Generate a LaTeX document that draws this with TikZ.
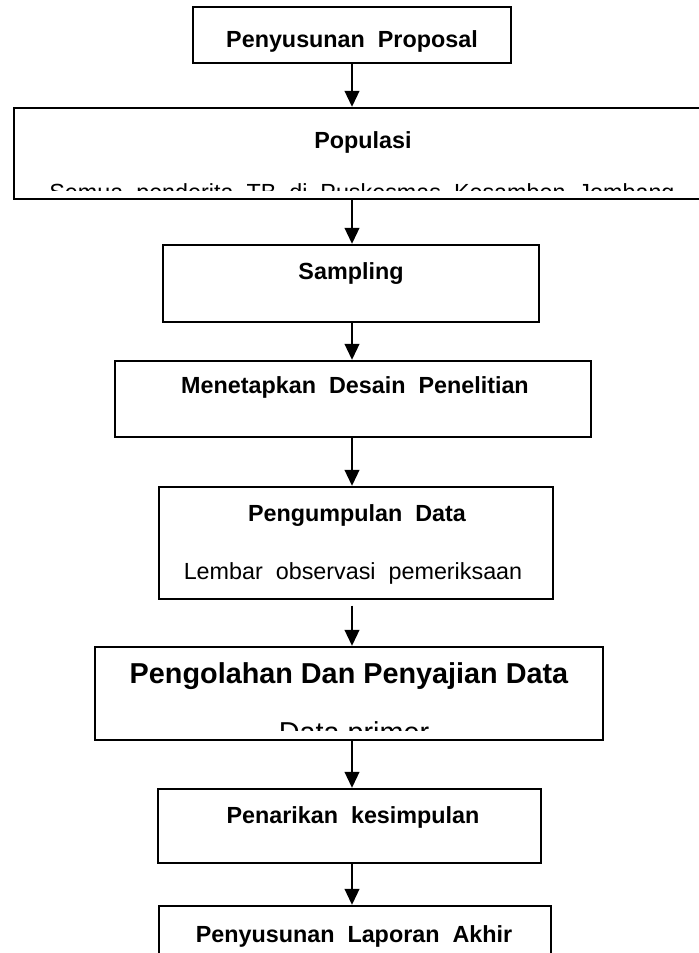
\documentclass[tikz,border=0pt]{standalone}
\usepackage{fontspec}
\setmainfont{Liberation Sans}
\newfontfamily\widefont[WordSpace=2]{Liberation Sans}
\usetikzlibrary{fit,arrows.meta}

\tikzset{every picture/.style={line width=0.75pt}}
\tikzset{
	stepbox/.style={draw, rectangle, line width=1.75pt, inner sep=0pt},
	flowarrow/.style={line width=1.5pt, -{Triangle[length=12pt,width=11pt]}},
	boxtitle/.style={font=\widefont\fontsize{17.5}{20}\selectfont\bfseries, inner sep=0pt, anchor=base},
	boxtext/.style={font=\widefont\fontsize{17.5}{20}\selectfont, inner sep=0pt, anchor=base},
	bigtitle/.style={font=\fontsize{21.6}{24}\selectfont\bfseries, inner sep=0pt, anchor=base},
	bigtext/.style={font=\fontsize{21.6}{24}\selectfont, inner sep=0pt, anchor=base}}

\begin{document}
\begin{tikzpicture}[x=0.75pt,y=0.75pt,yscale=-1,xscale=1]
	\useasboundingbox (0,0) rectangle (699,953);
	\coordinate (axis) at (352,0);

	%Shape: Rectangle
	\node[stepbox, fit={(193,7) (511,63)}] (proposal) {};
	%Shape: Rectangle
	\node[stepbox, fit={(14,108) (712,199)}] (populasi) {};
	%Shape: Rectangle
	\node[stepbox, fit={(163,245) (539,322)}] (sampling) {};
	%Shape: Rectangle
	\node[stepbox, fit={(115,361) (591,437)}] (desain) {};
	%Shape: Rectangle
	\node[stepbox, fit={(159,487) (553,599)}] (pengumpulan) {};
	%Shape: Rectangle
	\node[stepbox, fit={(95,647) (603,740)}] (pengolahan) {};
	%Shape: Rectangle
	\node[stepbox, fit={(158,789) (541,863)}] (penarikan) {};
	%Shape: Rectangle
	\node[stepbox, fit={(159,906) (551,990)}] (laporan) {};

	%Straight Lines
	\draw[flowarrow] (proposal.south -| axis) -- (populasi.north -| axis);
	\draw[flowarrow] (populasi.south -| axis) -- (sampling.north -| axis);
	\draw[flowarrow] (sampling.south -| axis) -- (desain.north -| axis);
	\draw[flowarrow] (desain.south -| axis) -- (pengumpulan.north -| axis);
	\draw[flowarrow] ([yshift=4pt]pengumpulan.south -| axis) -- (pengolahan.north -| axis);
	\draw[flowarrow] (pengolahan.south -| axis) -- (penarikan.north -| axis);
	\draw[flowarrow] (penarikan.south -| axis) -- (laporan.north -| axis);

	% Text Node
	\node[boxtitle] (proposal-t) at (352,47) {Penyusunan Proposal};
	% Text Node
	\node[boxtitle] (populasi-t) at (363,148) {Populasi};
	\begin{scope}
		\clip (14,108) rectangle (712,190);
		% Text Node
		\node[boxtext] (populasi-isi) at (362,200) {Semua penderita TB di Puskesmas Kesamben Jombang};
	\end{scope}
	% Text Node
	\node[boxtitle] (sampling-t) at (351,279) {Sampling};
	% Text Node
	\node[boxtitle] (desain-t) at (355,393) {Menetapkan Desain Penelitian};
	% Text Node
	\node[boxtitle] (pengumpulan-t) at (357,521) {Pengumpulan Data};
	% Text Node
	\node[boxtext] (pengumpulan-isi) at (353,579) {Lembar observasi pemeriksaan};
	% Text Node
	\node[bigtitle] (pengolahan-t) at (349,683) {Pengolahan Dan Penyajian Data};
	\begin{scope}
		\clip (95,647) rectangle (603,730);
		% Text Node
		\node[bigtext] (pengolahan-isi) at (354,742) {Data primer};
	\end{scope}
	% Text Node
	\node[boxtitle] (penarikan-t) at (353,823) {Penarikan kesimpulan};
	% Text Node
	\node[boxtitle] (laporan-t) at (354,942) {Penyusunan Laporan Akhir};

\end{tikzpicture}
\end{document}
